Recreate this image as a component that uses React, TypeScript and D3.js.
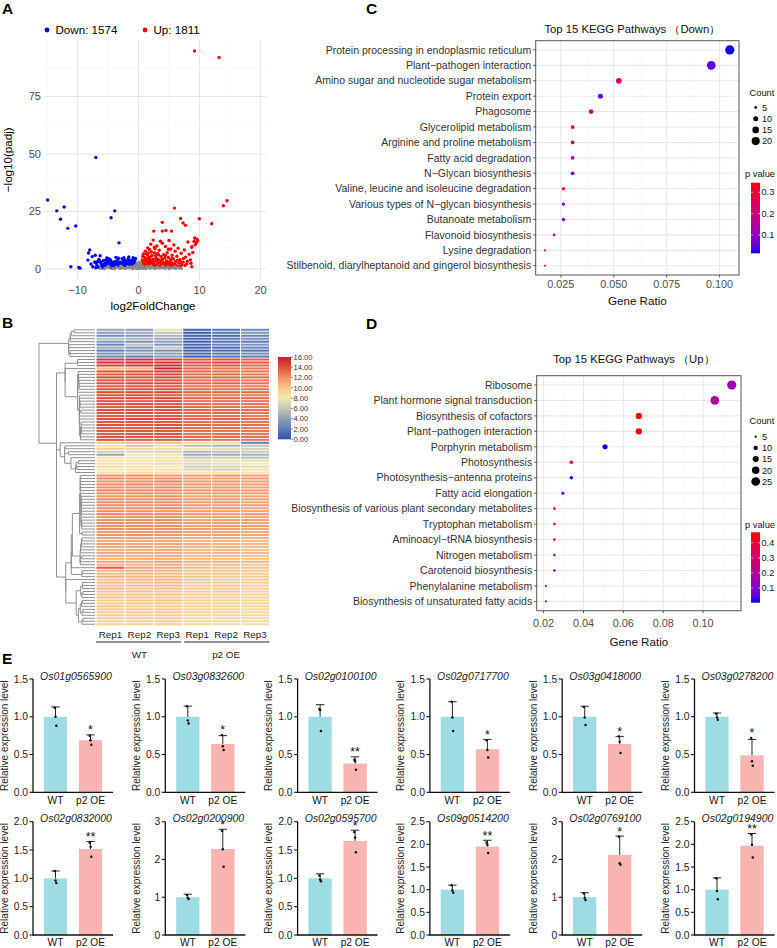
import React from 'react';
import * as d3 from 'd3';

const FONT = "'Liberation Sans', Arial, Helvetica, sans-serif";

// ---------------- Panel A: volcano ----------------
const DOWN_COUNT = 1574;
const UP_COUNT = 1811;
const VOLCANO_X_TICKS = [-10, 0, 10, 20];
const VOLCANO_X_MINOR = [-15, -5, 5, 15];
const VOLCANO_Y_TICKS = [0, 25, 50, 75];
const VOLCANO_Y_MINOR = [12.5, 37.5, 62.5, 87.5];
const VOLCANO_DOWN: [number, number][] = [
  [-14.9, 30], [-13.4, 25.3], [-12.2, 27], [-12.8, 21.7], [-11.6, 17.7], [-10.3, 18.7], [-7.0, 48.5],
  [-3.9, 25.3], [-4.5, 22.3], [-3.2, 11.4], [-11.1, 1], [-9.8, 0.7], [-9.6, 0.4], [-8.0, 8.3], [-8.2, 7.0],
  [-8.3, 3.9], [-7.6, 5.4], [-7.1, 6.0], [-5.0, 4.6],
  [-7.2, 3.1], [-6.9, 2.4], [-6.5, 4.2], [-6.8, 1.5], [-6.2, 2.9], [-6.0, 1.2], [-5.8, 3.6], [-5.6, 2.2],
  [-5.5, 0.9], [-5.3, 1.8], [-5.1, 3.0], [-4.9, 2.5], [-4.8, 1.1], [-4.6, 3.8], [-4.5, 2.0], [-4.3, 1.4],
  [-4.2, 2.8], [-4.0, 0.8], [-3.9, 3.3], [-3.8, 1.9], [-3.6, 2.6], [-3.5, 1.2], [-3.4, 4.1], [-3.2, 2.2],
  [-3.1, 0.9], [-3.0, 3.0], [-2.9, 1.6], [-2.8, 2.5], [-2.7, 4.5], [-2.6, 1.0], [-2.5, 3.4], [-2.4, 2.0],
  [-2.3, 1.3], [-2.2, 3.9], [-2.1, 2.7], [-2.0, 1.1], [-1.9, 3.2], [-1.8, 2.1], [-1.7, 4.4], [-1.6, 1.5],
  [-1.5, 2.9], [-1.4, 0.8], [-1.3, 3.6], [-1.2, 2.3], [-1.1, 1.4], [-1.0, 4.0], [-0.9, 2.6], [-0.8, 1.2],
  [-0.7, 3.1], [-0.6, 1.8], [-7.5, 1.0], [-7.8, 2.2], [-6.3, 5.8], [-5.9, 0.5], [-5.2, 4.8], [-4.4, 0.5],
  [-3.7, 5.1], [-2.9, 0.5], [-1.6, 5.3], [-1.0, 0.6], [-0.5, 4.6], [-6.6, 0.8], [-4.7, 4.3], [-3.3, 4.7],
  [-2.4, 4.9], [-0.9, 4.9], [-6.4, 3.5], [-5.7, 1.6], [-5.4, 3.9], [-4.1, 2.2], [-3.5, 3.0], [-2.7, 1.8],
  [-2.0, 2.6], [-1.4, 3.8], [-0.8, 2.0], [-0.6, 3.7], [-7.0, 0.6], [-6.1, 2.1], [-4.9, 3.4], [-1.9, 0.9],
  [-6.7, 3.3], [-5.4, 2.6], [-4.4, 3.1], [-3.4, 1.7], [-2.5, 2.4], [-1.7, 2.8], [-1.1, 3.2], [-0.7, 2.4],
];
const VOLCANO_UP: [number, number][] = [
  [9.2, 94.8], [13.2, 92], [14.5, 29.7], [13.9, 27.5], [5.9, 26.5], [6.9, 22], [9.95, 21.9], [12.0, 19.7],
  [3.9, 20.3], [2.5, 16.5], [3.9, 16.5], [4.5, 16.8], [5.4, 16.5], [7.7, 19], [7.3, 20], [9.2, 13.5],
  [9.5, 11.5], [9.7, 12.3], [8.75, 1], [8.75, 9.7],
  [0.6, 1.2], [0.8, 2.5], [0.9, 0.7], [1.0, 3.4], [1.1, 1.8], [1.2, 4.6], [1.3, 0.9], [1.4, 2.9], [1.5, 6.1],
  [1.6, 1.5], [1.7, 3.8], [1.8, 2.2], [1.9, 5.2], [2.0, 0.8], [2.1, 7.4], [2.2, 3.1], [2.3, 1.4], [2.4, 4.3],
  [2.5, 2.6], [2.6, 9.5], [2.7, 1.1], [2.8, 5.8], [2.9, 3.6], [3.0, 2.0], [3.1, 6.8], [3.2, 1.3], [3.3, 4.0],
  [3.4, 8.2], [3.5, 2.7], [3.6, 0.9], [3.7, 5.4], [3.8, 3.2], [3.9, 11.2], [4.0, 1.7], [4.1, 6.3], [4.2, 2.4],
  [4.3, 4.8], [4.4, 9.8], [4.5, 1.2], [4.6, 3.5], [4.7, 7.1], [4.8, 2.1], [4.9, 5.0], [5.0, 12.4], [5.1, 1.6],
  [5.2, 3.9], [5.3, 8.7], [5.4, 2.8], [5.5, 6.0], [5.6, 1.0], [5.7, 4.4], [5.8, 10.5], [5.9, 2.3], [6.0, 7.8],
  [6.1, 3.3], [6.2, 1.4], [6.3, 5.6], [6.5, 9.1], [6.6, 2.6], [6.8, 4.1], [7.0, 6.9], [7.1, 1.8], [7.3, 3.0],
  [7.5, 8.3], [7.7, 5.2], [7.9, 2.2], [8.1, 11.8], [8.3, 6.4], [8.5, 4.0], [8.7, 9.5], [8.9, 7.2], [9.1, 12.0],
  [9.3, 10.6], [0.7, 5.5], [1.1, 7.8], [1.5, 9.2], [2.0, 10.8], [2.4, 12.6], [0.9, 3.9], [1.3, 6.6], [1.8, 8.5],
  [2.2, 5.9], [2.6, 7.0], [3.0, 10.0], [3.3, 6.2], [3.6, 12.1], [0.5, 2.0], [0.6, 4.0], [1.0, 5.1], [1.2, 1.2],
  [1.6, 4.9], [2.1, 3.8], [2.9, 4.7], [3.5, 3.9], [4.0, 3.0], [4.4, 5.9], [4.9, 8.6], [5.5, 4.6], [6.0, 2.0],
  [6.4, 3.9], [6.9, 3.0], [7.4, 4.6], [8.0, 3.4], [8.6, 2.5], [9.6, 13.0], [9.4, 11.3], [0.7, 3.0], [1.4, 2.0],
  [1.9, 3.0], [2.3, 2.2], [2.8, 1.6], [3.2, 2.8], [3.7, 1.9], [4.1, 1.1], [4.6, 2.3], [5.1, 3.1], [5.7, 2.1],
  [6.7, 1.2], [7.6, 1.5], [1.0, 1.4], [1.7, 1.2], [2.5, 1.0], [3.4, 1.1], [0.8, 6.6], [1.6, 7.0], [2.7, 8.8],
  [0.9, 2.0], [1.3, 3.6], [1.8, 4.3], [2.4, 3.4], [3.0, 4.5], [3.9, 4.2], [4.5, 3.0], [5.3, 2.2], [0.6, 2.8],
];
const VOLCANO_NS: [number, number][] = [
  [-5.5, 0.3], [-4.8, 0.6], [-4.2, 0.2], [-3.6, 0.8], [-3.1, 0.4], [-2.6, 0.7], [-2.2, 0.2], [-1.8, 1.0],
  [-1.5, 0.5], [-1.2, 0.9], [-0.9, 0.3], [-0.7, 1.3], [-0.5, 0.6], [-0.4, 1.8], [-0.3, 0.2], [-0.2, 2.5],
  [-0.1, 0.9], [0.0, 0.4], [0.0, 1.5], [0.1, 3.0], [0.1, 0.7], [0.2, 2.1], [0.2, 0.3], [0.3, 1.2], [0.3, 2.6],
  [0.4, 0.5], [0.5, 0.9], [0.7, 0.3], [0.9, 0.6], [1.2, 0.2], [1.5, 0.8], [1.9, 0.4], [2.3, 0.7], [2.7, 0.2],
  [3.1, 0.9], [3.5, 0.4], [3.9, 0.7], [4.3, 0.3], [4.8, 0.8], [5.2, 0.4], [5.7, 0.6], [6.1, 0.2], [6.6, 0.5],
  [7.0, 0.3], [-6.3, 0.2], [-5.0, 1.0], [-3.9, 0.1], [-2.9, 1.2], [-2.0, 0.5], [-1.0, 0.1], [0.6, 1.4],
  [1.4, 1.1], [2.0, 1.2], [2.9, 0.5], [4.0, 1.1], [5.0, 0.2], [6.0, 1.0], [-0.2, 1.2], [0.1, 1.9], [0.4, 1.6],
];

// ---------------- Panel B: heatmap ----------------
const HEAT_COLS = ['Rep1', 'Rep2', 'Rep3', 'Rep1', 'Rep2', 'Rep3'];
const HEAT_GROUPS = ['WT', 'p2 OE'];
const HEAT_LEGEND_TICKS = [0, 2, 4, 6, 8, 10, 12, 14, 16];
const HEAT_COLOR_STOPS = [0, 2, 4, 6, 8, 10, 12, 14, 16];
const HEAT_COLORS = ['#3353a6', '#5b7cb8', '#8f9fbb', '#c6c6b9', '#f3e9ad', '#f6c890', '#ee9068', '#dc5040', '#c41f2a'];
const HEAT_ROWS = [
  '4.5 4.0 7.5 1.0 2.0 3.0', '4.0 4.5 6.0 0.5 1.5 3.5', '3.0 3.5 5.0 0.5 1.0 2.5', '5.5 5.0 4.5 1.0 2.0 3.0',
  '3.5 3.0 4.0 0.5 1.5 2.0', '2.5 5.5 3.5 1.0 2.5 3.5', '4.5 3.5 6.0 0.5 1.0 2.5', '2.0 3.0 3.0 0.5 1.0 1.5',
  '3.5 4.5 4.0 1.0 2.0 3.0', '2.5 2.0 3.5 0.5 1.5 2.0',
  '14.8 15.2 14.6 13.8 13.9 13.4', '15.3 15.6 15.1 14.2 14.4 13.8', '14.6 15.0 15.3 13.6 13.8 13.2',
  '10.5 11.0 15.6 13.2 13.0 12.8', '13.9 14.2 14.8 13.4 13.1 12.9', '13.6 13.8 14.1 13.0 13.2 12.6',
  '14.2 14.0 14.4 13.5 13.3 13.1', '13.8 13.6 13.9 12.9 13.0 12.7', '14.0 14.3 14.2 13.3 13.4 13.0',
  '13.5 13.7 13.8 12.8 12.9 12.5', '13.9 14.1 14.0 13.2 13.1 12.9', '14.3 14.4 14.5 13.6 13.5 13.3',
  '13.7 13.9 13.6 13.0 12.8 12.6', '14.1 14.2 14.3 13.4 13.3 13.1', '13.8 13.5 13.9 12.9 13.0 12.8',
  '14.0 14.1 13.8 13.3 13.2 12.9', '13.6 13.8 14.0 13.1 12.9 12.7', '14.2 14.0 14.1 13.5 13.4 13.2',
  '13.9 14.2 13.9 13.2 13.3 13.0', '13.7 13.6 13.8 13.0 12.8 12.7', '14.1 14.3 14.2 13.4 13.5 13.1',
  '13.8 13.9 13.7 13.1 13.0 12.8', '14.0 13.8 14.0 13.3 13.2 13.0', '13.6 13.7 13.9 12.9 13.1 12.6',
  '13.9 14.0 13.8 13.2 13.0 12.9', '13.7 13.9 14.1 13.0 13.2 12.8', '14.1 14.0 13.9 13.4 13.3 13.1',
  '13.8 13.6 13.7 13.1 12.9 12.7',
  '10.0 10.5 10.2 8.8 8.6 2.5', '8.4 6.2 7.6 5.4 5.0 6.0', '9.6 9.2 8.8 7.8 7.2 6.6', '6.4 7.0 6.6 5.2 5.6 6.2',
  '4.2 8.0 8.4 4.6 4.4 5.0', '8.2 7.8 8.4 6.0 6.4 5.6', '8.6 8.2 8.6 7.2 7.6 7.4', '8.4 8.6 9.0 7.0 7.4 8.0',
  '8.8 8.2 8.0 6.4 6.8 7.2', '8.0 8.4 8.2 7.0 6.6 7.8', '8.6 8.8 8.6 7.8 7.6 8.4',
  '12.0 12.2 11.8 11.6 11.8 11.4', '12.3 12.0 12.1 11.7 11.5 11.6', '11.9 12.1 12.4 11.5 11.7 11.3',
  '12.2 12.4 12.0 11.8 11.6 11.5', '12.0 11.9 12.2 11.4 11.6 11.2', '12.4 12.2 12.3 11.9 11.8 11.6',
  '12.1 12.3 11.9 11.6 11.4 11.5', '11.8 12.0 12.1 11.3 11.5 11.2', '12.3 12.1 12.2 11.7 11.8 11.4',
  '12.0 12.2 12.0 11.5 11.6 11.3', '12.2 11.9 12.1 11.6 11.4 11.5', '11.9 12.1 12.3 11.4 11.7 11.2',
  '12.1 12.0 11.8 11.6 11.5 11.3', '12.3 12.2 12.1 11.8 11.6 11.6', '11.8 11.9 12.0 11.3 11.4 11.1',
  '12.0 12.1 12.2 11.5 11.6 11.4', '12.2 12.0 11.9 11.7 11.5 11.3', '11.9 12.2 12.1 11.4 11.7 11.5',
  '12.1 11.9 12.0 11.6 11.4 11.2', '11.7 11.8 11.9 11.2 11.3 11.0', '11.8 12.0 11.7 11.3 11.5 11.1',
  '11.2 11.4 11.3 10.8 10.9 10.6', '11.0 11.2 11.1 10.6 10.8 10.5', '11.4 11.1 11.3 10.9 10.7 10.6',
  '11.1 11.3 11.0 10.7 10.8 10.4', '10.9 11.0 11.2 10.5 10.6 10.3', '11.3 11.2 11.1 10.8 10.7 10.6',
  '11.0 10.9 11.1 10.4 10.6 10.3', '10.8 11.1 10.9 10.5 10.4 10.2', '11.2 11.0 11.3 10.7 10.8 10.5',
  '10.9 10.8 11.0 10.3 10.5 10.1', '13.6 11.4 11.2 10.6 10.4 10.3', '10.7 10.9 10.8 10.2 10.3 10.0',
  '10.6 10.8 10.5 10.1 10.2 9.9', '10.9 10.7 10.8 10.3 10.1 10.0', '10.4 10.6 10.7 6.2 6.6 9.8',
  '10.5 10.4 10.6 9.9 10.0 9.7', '10.3 10.5 10.4 9.8 9.9 9.6', '10.6 10.3 10.5 10.0 9.8 9.7',
  '10.2 10.4 10.2 9.7 9.8 9.5', '10.1 10.3 10.4 9.6 9.7 9.4', '10.4 10.2 10.1 9.8 9.6 9.5',
  '10.0 10.1 10.3 9.5 9.6 9.3', '9.9 10.2 10.0 9.4 9.5 9.2', '10.1 9.9 10.0 9.6 9.3 9.3',
  '9.8 10.0 9.9 9.3 9.4 9.1', '9.7 9.8 10.0 9.2 9.3 9.0', '9.9 9.7 9.8 9.1 9.2 8.9',
  '9.6 9.8 9.7 9.0 9.1 8.9', '9.5 9.6 9.8 8.9 9.0 8.8', '9.4 9.5 9.6 8.8 8.9 8.7',
];

// ---------------- Panel C: KEGG down ----------------
const DOWN_PATHWAYS = [
  'Protein processing in endoplasmic reticulum', 'Plant\u2212pathogen interaction',
  'Amino sugar and nucleotide sugar metabolism', 'Protein export', 'Phagosome', 'Glycerolipid metabolism',
  'Arginine and proline metabolism', 'Fatty acid degradation', 'N\u2212Glycan biosynthesis',
  'Valine, leucine and isoleucine degradation', 'Various types of N\u2212glycan biosynthesis',
  'Butanoate metabolism', 'Flavonoid biosynthesis', 'Lysine degradation',
  'Stilbenoid, diarylheptanoid and gingerol biosynthesis',
];
const DOWN_COUNTS = [24, 22, 12, 10, 9, 7, 7, 7, 7, 6, 6, 6, 5, 4, 4];
const DOWN_TOTAL = 229;
const DOWN_PVALUES = [0.014, 0.045, 0.24, 0.06, 0.17, 0.345, 0.22, 0.2, 0.075, 0.28, 0.09, 0.05, 0.23, 0.33, 0.3];
const DOWN_X_TICKS = [0.025, 0.05, 0.075, 0.1];
const DOWN_SIZE_LEGEND = [5, 10, 15, 20];
const DOWN_P_TICKS = [0.1, 0.2, 0.3];

// ---------------- Panel D: KEGG up ----------------
const UP_PATHWAYS = [
  'Ribosome', 'Plant hormone signal transduction', 'Biosynthesis of cofactors', 'Plant\u2212pathogen interaction',
  'Porphyrin metabolism', 'Photosynthesis', 'Photosynthesis\u2212antenna proteins', 'Fatty acid elongation',
  'Biosynthesis of various plant secondary metabolites', 'Tryptophan metabolism', 'Aminoacyl\u2212tRNA biosynthesis',
  'Nitrogen metabolism', 'Carotenoid biosynthesis', 'Phenylalanine metabolism', 'Biosynthesis of unsaturated fatty acids',
];
const UP_COUNTS = [27, 25, 16, 16, 12, 8, 8, 7, 6, 6, 6, 6, 6, 5, 5];
const UP_TOTAL = 236;
const UP_PVALUES = [0.15, 0.19, 0.47, 0.45, 0.002, 0.42, 0.01, 0.08, 0.43, 0.42, 0.4, 0.1, 0.11, 0.45, 0.24];
const UP_X_TICKS = [0.02, 0.04, 0.06, 0.08, 0.1];
const UP_SIZE_LEGEND = [5, 10, 15, 20, 25];
const UP_P_TICKS = [0.1, 0.2, 0.3, 0.4];

// ---------------- Panel E: qPCR ----------------
const GENES = [
  'Os01g0565900', 'Os03g0832600', 'Os02g0100100', 'Os02g0717700', 'Os03g0418000', 'Os03g0278200',
  'Os02g0832000', 'Os02g0200900', 'Os02g0595700', 'Os09g0514200', 'Os02g0769100', 'Os02g0194900',
];
const BAR_GROUPS = ['WT', 'p2 OE'];
const WT_MEAN = [1, 1, 1, 1, 1, 1, 1, 1, 1, 1, 1, 1];
const WT_SD = [0.13, 0.14, 0.16, 0.2, 0.14, 0.05, 0.13, 0.08, 0.08, 0.1, 0.12, 0.26];
const WT_POINTS = [
  [1.12, 1.0, 0.88], [1.14, 0.95, 0.91], [1.1, 1.09, 0.81], [1.2, 0.99, 0.81], [1.13, 0.99, 0.89], [1.04, 0.99, 0.96],
  [1.13, 0.96, 0.92], [1.06, 0.98, 0.95], [1.05, 0.98, 0.95], [1.1, 0.98, 0.93], [1.1, 0.98, 0.93], [1.25, 0.97, 0.79],
];
const OE_MEAN = [0.69, 0.64, 0.38, 0.57, 0.64, 0.49, 1.52, 2.28, 1.66, 1.95, 2.12, 1.97];
const OE_SD = [0.07, 0.11, 0.09, 0.13, 0.1, 0.21, 0.13, 0.52, 0.19, 0.14, 0.5, 0.27];
const OE_POINTS = [
  [0.75, 0.69, 0.63], [0.76, 0.61, 0.56], [0.43, 0.41, 0.3], [0.69, 0.56, 0.46], [0.74, 0.67, 0.52], [0.72, 0.41, 0.35],
  [1.63, 1.56, 1.38], [2.76, 2.27, 1.81], [1.82, 1.72, 1.46], [2.04, 1.99, 1.81], [2.6, 1.9, 1.86], [2.22, 1.99, 1.71],
];
const SIGNIF = ['*', '*', '**', '*', '*', '*', '**', '*', '*', '**', '*', '**'];
const Y_MAX = [1.5, 1.5, 1.5, 1.5, 1.5, 1.5, 2, 3, 2, 2.5, 3, 2.5];
const Y_STEP = [0.5, 0.5, 0.5, 0.5, 0.5, 0.5, 0.5, 1, 0.5, 0.5, 1, 0.5];

const WT_COLOR = '#9ddce3';
const OE_COLOR = '#f9b3b1';

// ================= Components =================
function PanelLetter({ x, y, t }: { x: number; y: number; t: string }) {
  return (
    <text x={x} y={y} fontSize={15.5} fontWeight="bold" fill="#000">{t}</text>
  );
}

function Volcano() {
  const L = 44, R = 266, T = 39.6, B = 280;
  const x = d3.scaleLinear().domain([-15.5, 20.9]).range([L, R]);
  const y = d3.scaleLinear().domain([-4.75, 99.75]).range([B, T]);
  return (
    <g>
      {VOLCANO_X_MINOR.map(v => <line key={'xm' + v} x1={x(v)} x2={x(v)} y1={T} y2={B} stroke="#f1f1f1" strokeWidth={0.6} />)}
      {VOLCANO_Y_MINOR.map(v => <line key={'ym' + v} x1={L} x2={R} y1={y(v)} y2={y(v)} stroke="#f1f1f1" strokeWidth={0.6} />)}
      {VOLCANO_X_TICKS.map(v => <line key={'xM' + v} x1={x(v)} x2={x(v)} y1={T} y2={B} stroke="#e6e6e6" strokeWidth={1.1} />)}
      {VOLCANO_Y_TICKS.map(v => <line key={'yM' + v} x1={L} x2={R} y1={y(v)} y2={y(v)} stroke="#e6e6e6" strokeWidth={1.1} />)}
      {VOLCANO_DOWN.map((p, i) => <circle key={'d' + i} cx={x(p[0])} cy={y(p[1])} r={1.7} fill="#0000ff" />)}
      {VOLCANO_UP.map((p, i) => <circle key={'u' + i} cx={x(p[0])} cy={y(p[1])} r={1.7} fill="#ff0000" />)}
      {VOLCANO_NS.map((p, i) => <circle key={'n' + i} cx={x(p[0])} cy={y(p[1])} r={1.7} fill="#8a8a8a" />)}
      {VOLCANO_X_TICKS.map(v => (
        <text key={'xt' + v} x={x(v)} y={293.5} fontSize={11} fill="#4d4d4d" textAnchor="middle">{v < 0 ? '\u2212' + Math.abs(v) : v}</text>
      ))}
      {VOLCANO_Y_TICKS.map(v => (
        <text key={'yt' + v} x={L - 3} y={y(v) + 3.9} fontSize={11} fill="#4d4d4d" textAnchor="end">{v}</text>
      ))}
      <text x={(L + R) / 2 - 2} y={309.5} fontSize={11.6} textAnchor="middle" fill="#000">log2FoldChange</text>
      <text transform={`translate(12,${(T + B) / 2}) rotate(-90)`} fontSize={11.6} textAnchor="middle" fill="#000">{'\u2212log10(padj)'}</text>
      <circle cx={47} cy={30} r={2.4} fill="#0000ff" />
      <text x={55.5} y={34.2} fontSize={11.6} fill="#000">{`Down: ${DOWN_COUNT}`}</text>
      <circle cx={145} cy={30} r={2.4} fill="#ff0000" />
      <text x={153.5} y={34.2} fontSize={11.6} fill="#000">{`Up: ${UP_COUNT}`}</text>
    </g>
  );
}

type DNode = { left?: DNode; right?: DNode; h: number; members: number[]; y?: number; x?: number };

function buildDendro(rows: number[][]): DNode {
  const dist = (a: number[], b: number[]) => Math.sqrt(d3.sum(a.map((v, k) => (v - b[k]) ** 2)));
  const D = rows.map(a => rows.map(b => dist(a, b)));
  const link = (A: DNode, B: DNode) => d3.mean(A.members.flatMap(i => B.members.map(j => D[i][j]))) as number;
  let clusters: DNode[] = rows.map((_, i) => ({ h: 0, members: [i] }));
  while (clusters.length > 1) {
    let best = 0, bd = Infinity;
    for (let k = 0; k < clusters.length - 1; k++) {
      const d = link(clusters[k], clusters[k + 1]);
      if (d < bd) { bd = d; best = k; }
    }
    const A = clusters[best], Bn = clusters[best + 1];
    clusters.splice(best, 2, { left: A, right: Bn, h: Math.max(bd, A.h, Bn.h), members: [...A.members, ...Bn.members] });
  }
  return clusters[0];
}

function Heatmap() {
  const data = HEAT_ROWS.map(r => r.split(' ').map(Number));
  const X0 = 96, X1 = 269.5, Y0 = 328.3, Y1 = 625.7;
  const xs = d3.scaleBand<number>().domain(d3.range(HEAT_COLS.length)).range([X0, X1]);
  const ys = d3.scaleBand<number>().domain(d3.range(data.length)).range([Y0, Y1]);
  const color = d3.scaleLinear<string>().domain(HEAT_COLOR_STOPS).range(HEAT_COLORS).clamp(true);
  const root = buildDendro(data);
  const leafX = 95;
  const hx = d3.scaleSqrt().domain([0, root.h]).range([89, 39]);
  const paths: string[] = [];
  const layout = (n: DNode) => {
    if (!n.left || !n.right) {
      n.y = (ys(n.members[0]) as number) + ys.bandwidth() / 2;
      n.x = leafX;
      return;
    }
    layout(n.left); layout(n.right);
    n.x = hx(n.h);
    n.y = ((n.left.y as number) + (n.right.y as number)) / 2;
    paths.push(`M${n.left.x},${n.left.y}H${n.x}V${n.right.y}H${n.right.x}`);
  };
  layout(root);
  const half = HEAT_COLS.length / 2;
  const legY = d3.scaleLinear().domain([0, 16]).range([439.3, 357]);
  return (
    <g>
      <defs>
        <linearGradient id="heatGrad" x1="0" y1="1" x2="0" y2="0">
          {HEAT_COLOR_STOPS.map((s, i) => <stop key={i} offset={s / 16} stopColor={HEAT_COLORS[i]} />)}
        </linearGradient>
      </defs>
      {paths.map((p, i) => <path key={i} d={p} fill="none" stroke="#8f8f8f" strokeWidth={1} />)}
      {data.map((row, i) => row.map((v, j) => (
        <rect key={i + '-' + j} x={(xs(j) as number) + 0.5} y={(ys(i) as number) + 0.45} width={xs.bandwidth() - 1}
          height={ys.bandwidth() - 0.9} fill={color(v)} />
      )))}
      {HEAT_COLS.map((c, j) => (
        <text key={'c' + j} x={(xs(j) as number) + xs.bandwidth() / 2} y={637.5} fontSize={9.9} textAnchor="middle" fill="#222">{c}</text>
      ))}
      {HEAT_GROUPS.map((g, k) => {
        const a = xs(k * half) as number;
        const b = (xs(k * half + half - 1) as number) + xs.bandwidth();
        return (
          <g key={g}>
            <line x1={a + (k ? 1.5 : 0)} x2={b - (k ? 0 : 1.5)} y1={642} y2={642} stroke="#222" strokeWidth={1.2} />
            <text x={(a + b) / 2} y={657.5} fontSize={9.9} textAnchor="middle" fill="#222">{g}</text>
          </g>
        );
      })}
      <rect x={278} y={357} width={13} height={82.3} fill="url(#heatGrad)" />
      {HEAT_LEGEND_TICKS.map(t => (
        <g key={'l' + t}>
          <line x1={291} x2={293} y1={legY(t)} y2={legY(t)} stroke="#333" strokeWidth={0.6} />
          <text x={293.5} y={legY(t) + 2.7} fontSize={7.6} fill="#333">{d3.format('.2f')(t)}</text>
        </g>
      ))}
    </g>
  );
}

type KeggProps = {
  id: string; L: number; R: number; T: number; B: number; titleY: number; title: string;
  pathways: string[]; counts: number[]; total: number; pvalues: number[]; xticks: number[]; fmt: string;
  tickY: number; labelY: number; sizeLegend: number[]; countY: number; dotY0: number;
  pLabelY: number; barT: number; barB: number; pTicks: number[];
};

function Kegg(p: KeggProps) {
  const ratios = p.counts.map(c => c / p.total);
  const [rmin, rmax] = d3.extent(ratios) as [number, number];
  const pad = (rmax - rmin) * 0.05;
  const x = d3.scaleLinear().domain([rmin - pad, rmax + pad]).range([p.L, p.R]);
  const y = d3.scalePoint<string>().domain(p.pathways).range([p.T, p.B]).padding(0.6);
  const [cmin, cmax] = d3.extent(p.counts) as [number, number];
  const size = d3.scaleLinear().domain([Math.sqrt(cmin), Math.sqrt(cmax)]).range([1.1, 4.6]);
  const [pmin, pmax] = d3.extent(p.pvalues) as [number, number];
  const col = d3.scaleLinear<string>().domain([pmin, pmax]).range(['#0000ff', '#ff0000']).interpolate(d3.interpolateLab);
  const minor = p.xticks.slice(0, -1).map((t, i) => (t + p.xticks[i + 1]) / 2);
  const step = p.xticks[1] - p.xticks[0];
  minor.unshift(p.xticks[0] - step / 2);
  minor.push(p.xticks[p.xticks.length - 1] + step / 2);
  const pScale = d3.scaleLinear().domain([pmin, pmax]).range([p.barB, p.barT]);
  const stops = d3.range(11).map(i => i / 10);
  const legX = 755.7;
  return (
    <g>
      <defs>
        <linearGradient id={p.id} x1="0" y1="1" x2="0" y2="0">
          {stops.map(s => <stop key={s} offset={s} stopColor={col(pmin + (pmax - pmin) * s)} />)}
        </linearGradient>
        <clipPath id={p.id + 'clip'}><rect x={p.L} y={p.T} width={p.R - p.L} height={p.B - p.T} /></clipPath>
      </defs>
      <text x={(p.L + p.R) / 2 - 5} y={p.titleY} fontSize={11.3} textAnchor="middle" fill="#111">{p.title}</text>
      <g clipPath={`url(#${p.id}clip)`}>
        {minor.map(v => <line key={'m' + v} x1={x(v)} x2={x(v)} y1={p.T} y2={p.B} stroke="#f2f2f2" strokeWidth={0.6} />)}
        {p.xticks.map(v => <line key={'M' + v} x1={x(v)} x2={x(v)} y1={p.T} y2={p.B} stroke="#e8e8e8" strokeWidth={1.1} />)}
        {p.pathways.map(n => <line key={'h' + n} x1={p.L} x2={p.R} y1={y(n)} y2={y(n)} stroke="#e8e8e8" strokeWidth={1.1} />)}
      </g>
      {p.pathways.map((n, i) => (
        <circle key={'pt' + n} cx={x(ratios[i])} cy={y(n)} r={size(Math.sqrt(p.counts[i]))} fill={col(p.pvalues[i])} />
      ))}
      <rect x={p.L} y={p.T} width={p.R - p.L} height={p.B - p.T} fill="none" stroke="#555" strokeWidth={1} />
      {p.pathways.map(n => (
        <g key={'lab' + n}>
          <line x1={p.L - 2.5} x2={p.L} y1={y(n)} y2={y(n)} stroke="#333" strokeWidth={0.8} />
          <text x={p.L - 4.5} y={(y(n) as number) + 3.7} fontSize={10.5} textAnchor="end" fill="#333">{n}</text>
        </g>
      ))}
      {p.xticks.map(v => (
        <g key={'xt' + v}>
          <line x1={x(v)} x2={x(v)} y1={p.B} y2={p.B + 2.5} stroke="#333" strokeWidth={0.8} />
          <text x={x(v)} y={p.tickY} fontSize={10.8} textAnchor="middle" fill="#4d4d4d">{d3.format(p.fmt)(v)}</text>
        </g>
      ))}
      <text x={(p.L + p.R) / 2} y={p.labelY} fontSize={11.6} textAnchor="middle" fill="#111">Gene Ratio</text>
      <text x={749.5} y={p.countY} fontSize={9.3} fill="#111">Count</text>
      {p.sizeLegend.map((c, i) => (
        <g key={'sz' + c}>
          <circle cx={legX} cy={p.dotY0 + i * 11.2} r={size(Math.sqrt(c))} fill="#000" />
          <text x={762} y={p.dotY0 + i * 11.2 + 3.2} fontSize={9.2} fill="#111">{c}</text>
        </g>
      ))}
      <text x={745} y={p.pLabelY} fontSize={9.3} fill="#111">p value</text>
      <rect x={751} y={p.barT} width={9} height={p.barB - p.barT} fill={`url(#${p.id})`} />
      {p.pTicks.map(t => (
        <g key={'pt' + t}>
          <line x1={751} x2={753} y1={pScale(t)} y2={pScale(t)} stroke="#fff" strokeWidth={0.6} />
          <line x1={758} x2={760} y1={pScale(t)} y2={pScale(t)} stroke="#fff" strokeWidth={0.6} />
          <text x={761.5} y={pScale(t) + 3.2} fontSize={9.2} fill="#111">{d3.format('.1f')(t)}</text>
        </g>
      ))}
    </g>
  );
}

function BarChart({ i }: { i: number }) {
  const row = Math.floor(i / 6), colI = i % 6;
  const ax = 33 + colI * 132.3;
  const y0 = row === 0 ? 792.3 : 935;
  const yTop = y0 - 113.3;
  const y = d3.scaleLinear().domain([0, Y_MAX[i]]).range([y0, yTop]);
  const x = d3.scaleBand<string>().domain(BAR_GROUPS).range([ax, ax + 80]).paddingInner(0.334).paddingOuter(0.31);
  const ticks = d3.range(0, Y_MAX[i] + 1e-9, Y_STEP[i]);
  const fmt = Y_STEP[i] < 1 ? d3.format('.1f') : d3.format('d');
  const means = [WT_MEAN[i], OE_MEAN[i]];
  const sds = [WT_SD[i], OE_SD[i]];
  const pts = [WT_POINTS[i], OE_POINTS[i]];
  const colors = [WT_COLOR, OE_COLOR];
  const cx = (g: string) => (x(g) as number) + x.bandwidth() / 2;
  const oeTop = y(Math.max(OE_MEAN[i] + OE_SD[i], ...OE_POINTS[i]));
  return (
    <g>
      {BAR_GROUPS.map((g, k) => (
        <g key={g}>
          <rect x={x(g)} y={y(means[k])} width={x.bandwidth()} height={y0 - y(means[k])} fill={colors[k]} />
          <line x1={cx(g)} x2={cx(g)} y1={y(means[k])} y2={y(means[k] + sds[k])} stroke="#111" strokeWidth={0.9} />
          <line x1={cx(g) - 4.2} x2={cx(g) + 4.2} y1={y(means[k] + sds[k])} y2={y(means[k] + sds[k])} stroke="#111" strokeWidth={0.9} />
          {pts[k].map((v, j) => (
            <circle key={j} cx={cx(g) + (j - 1) * 0.8} cy={y(v)} r={1.25} fill="#111" />
          ))}
          <text x={cx(g)} y={y0 + 11.3} fontSize={10.2} textAnchor="middle" fill="#111">{g}</text>
        </g>
      ))}
      <text x={cx('p2 OE')} y={oeTop - 0.5} fontSize={12.5} textAnchor="middle" fill="#111">{SIGNIF[i]}</text>
      <line x1={ax} x2={ax + 80} y1={y0} y2={y0} stroke="#111" strokeWidth={1.3} />
      <line x1={ax} x2={ax} y1={y0 + 0.65} y2={yTop} stroke="#111" strokeWidth={1.3} />
      {ticks.map(t => (
        <g key={t}>
          <line x1={ax - 3.5} x2={ax} y1={y(t)} y2={y(t)} stroke="#111" strokeWidth={1.1} />
          <text x={ax - 5} y={y(t) + 3.6} fontSize={10.3} textAnchor="end" fill="#222">{fmt(t)}</text>
        </g>
      ))}
      <text transform={`translate(${ax - 25.5},${(y0 + yTop) / 2}) rotate(-90)`} fontSize={10} textAnchor="middle"
        fill="#222">Relative expression level</text>
      <text x={ax + 43} y={row === 0 ? 679.5 : 822} fontSize={10.5} fontStyle="italic" textAnchor="middle"
        fill="#222">{GENES[i]}</text>
    </g>
  );
}

export default function App() {
  return (
    <svg width={777} height={948} style={{ position: 'absolute', left: 0, top: 0, background: '#fff' }}
      fontFamily={FONT}>
      <rect x={0} y={0} width={777} height={948} fill="#fff" />
      <PanelLetter x={2} y={14} t="A" />
      <PanelLetter x={2} y={328} t="B" />
      <PanelLetter x={366} y={14} t="C" />
      <PanelLetter x={366} y={329} t="D" />
      <PanelLetter x={2} y={664} t="E" />
      <Volcano />
      <Heatmap />
      <Kegg id="kc" L={535.7} R={739} T={40.7} B={275} titleY={33} title={'Top 15 KEGG Pathways \uff08Down\uff09'}
        pathways={DOWN_PATHWAYS} counts={DOWN_COUNTS} total={DOWN_TOTAL} pvalues={DOWN_PVALUES}
        xticks={DOWN_X_TICKS} fmt=".3f" tickY={288} labelY={305} sizeLegend={DOWN_SIZE_LEGEND}
        countY={95.5} dotY0={107.5} pLabelY={176.5} barT={182.7} barB={253.3} pTicks={DOWN_P_TICKS} />
      <Kegg id="kd" L={536.7} R={741} T={375.7} B={610.7} titleY={363} title={'Top 15 KEGG Pathways \uff08Up\uff09'}
        pathways={UP_PATHWAYS} counts={UP_COUNTS} total={UP_TOTAL} pvalues={UP_PVALUES}
        xticks={UP_X_TICKS} fmt=".2f" tickY={626.5} labelY={645.5} sizeLegend={UP_SIZE_LEGEND}
        countY={424} dotY0={436.7} pLabelY={527.5} barT={532.3} barB={602.7} pTicks={UP_P_TICKS} />
      {GENES.map((_, i) => <BarChart key={i} i={i} />)}
    </svg>
  );
}
